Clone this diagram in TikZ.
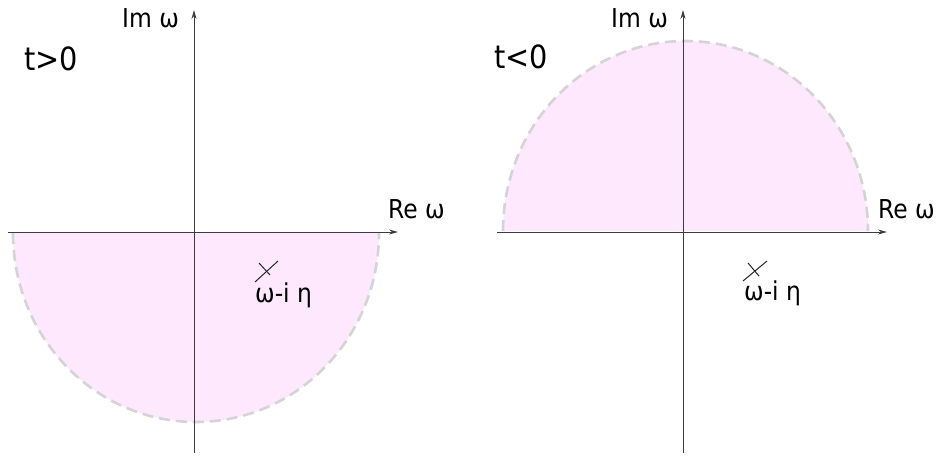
\documentclass[tikz,border=0pt]{standalone}
\usepackage{fontspec}
\setmainfont{DejaVu Sans}[FakeStretch=0.9]
\usetikzlibrary{arrows.meta}
\definecolor{halfpink}{RGB}{253,232,253}
\definecolor{rimgray}{RGB}{212,212,212}
\definecolor{axisgray}{RGB}{60,60,60}
\tikzset{
  axis/.style={draw=axisgray,line width=1pt,-{Stealth[length=9pt,width=5pt]}},
  rim/.style={draw=rimgray,line width=2.6pt,dash pattern=on 11pt off 6pt},
  lbl/.style={anchor=base west,inner sep=0pt,font=\fontsize{26}{29}\selectfont},
  big/.style={anchor=base west,inner sep=0pt,font=\fontsize{32}{35}\selectfont},
  pole/.style={draw=black!85,line width=1pt}
}

\begin{document}
\begin{tikzpicture}[x=1pt,y=-1pt]
\useasboundingbox (0,0) rectangle (936,457);
% t>0: lower half plane
\fill[halfpink] (13,233) arc[start angle=180,end angle=0,x radius=183,y radius=189] -- cycle;
\draw[rim] (13,233) arc[start angle=180,end angle=0,x radius=183,y radius=189];
\coordinate (lxa) at (8,232);
\coordinate (lxb) at (398,232);
\coordinate (lya) at (194,453);
\coordinate (lyb) at (194,10);
\draw[axis] (lxa) -- (lxb);
\draw[axis] (lya) -- (lyb);
\node[lbl] (lim) at (122,28) {Im ω};
\node[lbl] (lre) at (388,218) {Re ω};
\node[big] (ltime) at (24,71) {t>0};
\draw[pole] (255,282) -- (278,261);
\draw[pole] (259,263) -- (270,275);
\node[lbl] (lpole) at (255,302) {ω-i η};
% t<0: upper half plane
\fill[halfpink] (503,231) arc[start angle=180,end angle=360,x radius=182.5,y radius=190] -- cycle;
\draw[rim] (503,231) arc[start angle=180,end angle=360,x radius=182.5,y radius=190];
\coordinate (rxa) at (497,232);
\coordinate (rxb) at (887,232);
\coordinate (rya) at (683,453);
\coordinate (ryb) at (683,10);
\draw[axis] (rxa) -- (rxb);
\draw[axis] (rya) -- (ryb);
\node[lbl] (rim) at (611,28) {Im ω};
\node[lbl] (rre) at (878,218) {Re ω};
\node[big] (rtime) at (494,69) {t<0};
\draw[pole] (743,281) -- (767,261);
\draw[pole] (748,263) -- (759,276);
\node[lbl] (rpole) at (744,300) {ω-i η};
\end{tikzpicture}
\end{document}
